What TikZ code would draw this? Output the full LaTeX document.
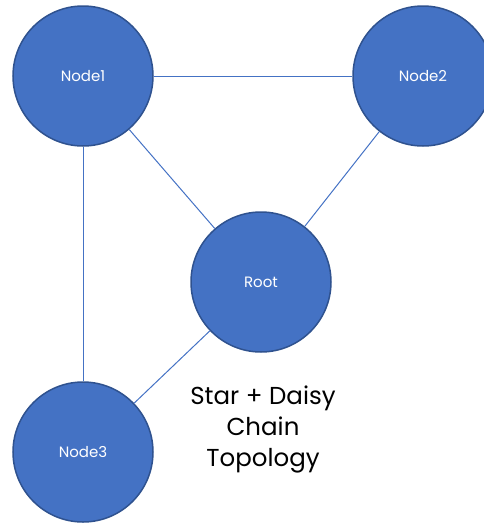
\documentclass[tikz,border=0pt]{standalone}
\usepackage{fontspec}
\setmainfont{Poppins}
\usepackage{tikz}

\definecolor{nodeblue}{HTML}{4472C4}
\definecolor{nodeedge}{HTML}{2F528F}

\begin{document}
\begin{tikzpicture}[x=1pt, y=-1pt, main/.style = {draw=nodeedge, fill=nodeblue, circle, line width=1.5pt, minimum size=140pt, inner sep=0pt, text=white, font=\fontsize{15}{18}\selectfont}, link/.style = {draw=nodeblue, line width=1pt}]
        \useasboundingbox (0,0) rectangle (484,523);
        \clip (0,0) rectangle (484,523);
        \node[main] (n1) at (83,76) {Node1};
        \node[main] (n2) at (423,76) {Node2};
        \node[main] (root) at (261,282) {Root};
        \node[main] (n3) at (83,452) {Node3};
        \draw[link] (n1) -- (n2);
        \draw[link] (n1) -- (root);
        \draw[link] (n2) -- (root);
        \draw[link] (n1) -- (n3);
        \draw[link] (root) -- (n3);
        \node[align=center, font=\fontsize{24.5}{31}\selectfont] (title) at (263,429) {Star + Daisy\\Chain\\Topology};
    \end{tikzpicture}
\end{document}
